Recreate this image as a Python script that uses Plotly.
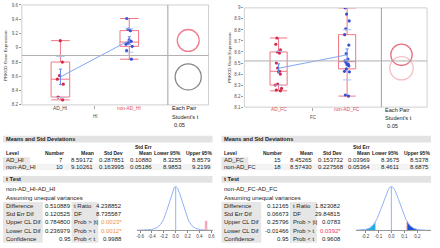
import math
import numpy as np
import plotly.graph_objects as go

W, H = 440, 248
FONT = "Liberation Sans, Arial, sans-serif"

# ---------------- data ----------------
hi_groups = ["AD_HI", "non-AD_HI"]
hi_axis_name = "HI"
ad_hi = [9.10, 8.80, 8.61, 8.56, 8.49, 8.31, 8.27]
non_ad_hi = [9.41, 9.26, 9.24, 9.11, 9.09, 9.07, 9.05, 9.02, 8.96, 8.84]
hi_yticks = [8.2, 8.4, 8.6, 8.8, 9.0, 9.2, 9.4, 9.6]
hi_yticklabels = ["8.2", "8.4", "8.6", "8.8", "9", "9.2", "9.4", "9.6"]
hi_circle_radius = [0.179, 0.150]

fc_groups = ["AD_FC", "non-AD_FC"]
fc_axis_name = "FC"
ad_fc = [8.727, 8.67, 8.62, 8.60, 8.59, 8.50, 8.455, 8.425, 8.42, 8.40,
         8.31, 8.30, 8.27, 8.255, 8.248]
non_ad_fc = [9.00, 8.944, 8.882, 8.81, 8.757, 8.663, 8.585, 8.536, 8.52,
             8.505, 8.49, 8.485, 8.474, 8.447, 8.425, 8.42, 8.21, 8.20]
fc_yticks = [8.1, 8.2, 8.3, 8.4, 8.5, 8.6, 8.7, 8.8, 8.9, 9.0]
fc_yticklabels = ["8.1", "8.2", "8.3", "8.4", "8.5", "8.6", "8.7", "8.8", "8.9", "9"]
fc_circle_radius = [0.104, 0.095]

# Means and Std Deviations
hi_number = [7, 10]
hi_mean = [8.59172, 9.10261]
hi_std = [0.287851, 0.163995]
hi_stderr = [0.10880, 0.05186]
hi_lower95 = [8.3255, 8.9853]
hi_upper95 = [8.8579, 9.2199]

fc_number = [15, 18]
fc_mean = [8.45265, 8.57430]
fc_std = [0.153732, 0.227568]
fc_stderr = [0.03969, 0.05364]
fc_lower95 = [8.3675, 8.4611]
fc_upper95 = [8.5378, 8.6875]

# t Test
ttest_left_labels = ["Difference", "Std Err Dif", "Upper CL Dif", "Lower CL Dif", "Confidence"]
ttest_right_labels = ["t Ratio", "DF", "Prob &gt; |t|", "Prob &gt; t", "Prob &lt; t"]
hi_ttest_values = [0.510889, 0.120525, 0.784800, 0.236979, 0.95]
hi_ttest_stats = [4.238852, 8.735587, 0.0023, 0.0012, 0.9988]
fc_ttest_values = [0.12165, 0.06673, 0.25796, -0.01466, 0.95]
fc_ttest_stats = [1.823082, 29.84815, 0.0783, 0.0392, 0.9608]

hi_density_ticks = [-0.6, -0.4, -0.2, 0.0, 0.2, 0.4, 0.6]
hi_density_ticklabels = ["-0.6", "-0.4", "-0.2", "0.0", "0.2", "0.4", "0.6"]
fc_density_ticks = [-0.2, -0.1, 0.0, 0.1, 0.2]
fc_density_ticklabels = ["-0.2", "-0.1", "0.0", "0.1", "0.2"]

# ---------------- helpers ----------------
fig = go.Figure()
annotations, shapes = [], []
axes = {}


def X(px):
    return px / W


def Y(py):
    return 1 - py / H


def txt(x, y, s, anchor="left", size=6, bold=False, color="#222", xref="paper", angle=0):
    annotations.append(dict(
        x=X(x) if xref == "paper" else x, y=Y(y), xref=xref, yref="paper",
        text=f"<b>{s}</b>" if bold else s, showarrow=False, xanchor=anchor,
        yanchor="middle", textangle=angle, borderpad=0,
        font=dict(family=FONT, size=size, color=color)))


def rect(x0, y0, x1, y1, fill=None, line=None, layer="below"):
    shapes.append(dict(type="rect", xref="paper", yref="paper",
                       x0=X(x0), x1=X(x1), y0=Y(y1), y1=Y(y0),
                       fillcolor=fill or "rgba(0,0,0,0)",
                       line=dict(color=line or "rgba(0,0,0,0)", width=1 if line else 0),
                       layer=layer))


def t_pdf(x, df, scale):
    t = x / scale
    c = math.gamma((df + 1) / 2) / (math.sqrt(df * math.pi) * math.gamma(df / 2))
    return c * (1 + t * t / df) ** (-(df + 1) / 2) / scale


RED_PT = "#d42a4a"
BLUE_PT = "#3552d4"
BOX_LINE = "#f07584"


def panel(cfg, groups, samples, yticks, yticklabels, circle_r, numbers, means, stds,
          stderrs, lowers, uppers, tvals, tstats, dticks, dticklabels, axis_name):
    dx = cfg["dx"]
    xa, ya, ca, dxa, dya = cfg["axes"]
    fx0, fsep, fx1, fy0, fy1 = cfg["frame"]
    yr = cfg["yr"]

    axes[cfg["xkey"]] = dict(domain=[X(fx0), X(fsep)], range=cfg["xr"], anchor=ya,
                             tickvals=[0.5], ticktext=[""], ticks="outside", ticklen=3,
                             tickcolor="#aaa", showgrid=False, zeroline=False,
                             showline=False, fixedrange=True)
    axes[cfg["ykey"]] = dict(domain=[Y(fy1), Y(fy0)], range=yr, anchor=xa,
                             tickvals=yticks, ticktext=yticklabels, ticks="outside",
                             ticklen=2, tickcolor="#999",
                             tickfont=dict(family=FONT, size=4.5, color="#555"),
                             showgrid=False, zeroline=False, showline=False)
    axes[cfg["ckey"]] = dict(domain=[X(fsep), X(fx1)], range=[0, 1], anchor=ya,
                             visible=False)
    axes[cfg["dxkey"]] = dict(domain=[X(137 + dx), X(213 + dx)], range=cfg["drange"],
                              anchor=dya, tickvals=dticks, ticktext=dticklabels,
                              ticks="outside", ticklen=1.5, tickcolor="#888",
                              showline=True, linecolor="#9a9a9a", linewidth=1,
                              showgrid=False, zeroline=False,
                              tickfont=dict(family=FONT, size=4.5, color="#444"))

    rect(fx0, fy0, fx1, fy1, line="#cfcfcf")
    shapes.append(dict(type="line", xref="paper", yref="paper", x0=X(fsep), x1=X(fsep),
                       y0=Y(fy1), y1=Y(fy0), line=dict(color="#a0a0a0", width=1)))
    grand = sum(n * m for n, m in zip(numbers, means)) / sum(numbers)
    shapes.append(dict(type="line", xref="paper", yref=ya, x0=X(fx0), x1=X(fx1),
                       y0=grand, y1=grand, line=dict(color="#b0b0b0", width=1)))

    for i, (vals, pc) in enumerate(zip(samples, [RED_PT, BLUE_PT])):
        fig.add_trace(go.Box(y=vals, x0=i, width=cfg["boxw"], boxpoints="all",
                             jitter=0.45, pointpos=0, quartilemethod="exclusive",
                             whiskerwidth=1, fillcolor="white",
                             line=dict(color=BOX_LINE, width=1),
                             marker=dict(color=pc, size=3.2),
                             xaxis=xa, yaxis=ya, showlegend=False, hoverinfo="y"))
    xs = list(range(len(groups)))
    fig.add_trace(go.Scatter(x=xs, y=means, mode="lines",
                             line=dict(color="#7fa8f3", width=1), xaxis=xa, yaxis=ya))
    fig.add_trace(go.Scatter(x=xs, y=means, mode="markers",
                             marker=dict(size=2, color="rgba(0,0,0,0)"),
                             error_y=dict(type="data", array=stderrs, color="#5d86ea",
                                          thickness=1, width=1.5),
                             xaxis=xa, yaxis=ya))
    sdx, sdy = [], []
    for i, (m, s) in enumerate(zip(means, stds)):
        sdx += [i, i]
        sdy += [m - s, m + s]
    fig.add_trace(go.Scatter(x=sdx, y=sdy, mode="markers",
                             marker=dict(symbol="line-ew", size=6,
                                         line=dict(color="#a9c3f3", width=1)),
                             xaxis=xa, yaxis=ya))

    px_per_unit = (fy1 - fy0) / (yr[1] - yr[0])
    fig.add_trace(go.Scatter(x=[cfg["circle_x"]] * len(means), y=means, mode="markers",
                             marker=dict(symbol="circle-open",
                                         size=[2 * r * px_per_unit for r in circle_r],
                                         color=cfg["circle_colors"],
                                         line=dict(width=1.3, color=cfg["circle_colors"])),
                             xaxis=ca, yaxis=ya, cliponaxis=False))

    for i, g in enumerate(groups):
        txt(i, cfg["label_y"], g, anchor="center", size=4.8, color=cfg["label_colors"][i],
            xref=xa)
    txt(cfg["name_xy"][0], cfg["name_xy"][1], axis_name, anchor="center", size=4.5,
        color="#444")
    txt(cfg["ytitle_x"], (fy0 + fy1) / 2, "PRKCD Gene Expression", anchor="center",
        size=4.4, color="#333", angle=-90)
    ex = cfg["each_x"]
    ey = cfg["each_y"]
    txt(ex, ey[0], "Each Pair", size=5.6, color="#222")
    txt(ex, ey[1], "Student's t", size=5.6, color="#222")
    txt(ex + 2, ey[2], "0.05", size=5.6, color="#222")

    # ---- Means and Std Deviations table ----
    rect(2 + dx, 136.5, 213 + dx, 143.5, fill="#e3e3e3")
    txt(4 + dx, 140, "Means and Std Deviations", size=5.6, bold=True)
    txt(4 + dx, 154, "Level", size=5, bold=True)
    txt(64 + dx, 154, "Number", anchor="right", size=5, bold=True)
    txt(95 + dx, 154, "Mean", anchor="right", size=5, bold=True)
    txt(124 + dx, 154, "Std Dev", anchor="right", size=5, bold=True)
    txt(153 + dx, 148, "Std Err", anchor="right", size=5, bold=True)
    txt(153 + dx, 154, "Mean", anchor="right", size=5, bold=True)
    txt(182 + dx, 154, "Lower 95%", anchor="right", size=5, bold=True)
    txt(213 + dx, 154, "Upper 95%", anchor="right", size=5, bold=True)
    row_y = [161.7, 168.3]
    rect(2 + dx, 165, 213 + dx, 171.6, fill="#f3f3f3")
    for i, g in enumerate(groups):
        rect(2 + dx, row_y[i] - 3.3, 29 + dx, row_y[i] + 3.3, fill="#e6e6e6")
        txt(4 + dx, row_y[i], g, size=6)
        txt(63 + dx, row_y[i], f"{numbers[i]}", anchor="right", size=6)
        txt(94 + dx, row_y[i], f"{means[i]:.5f}", anchor="right", size=6)
        txt(126 + dx, row_y[i], f"{stds[i]:.6f}", anchor="right", size=6)
        txt(153 + dx, row_y[i], f"{stderrs[i]:.5f}", anchor="right", size=6)
        txt(183 + dx, row_y[i], f"{lowers[i]:.4f}", anchor="right", size=6)
        txt(212 + dx, row_y[i], f"{uppers[i]:.4f}", anchor="right", size=6)

    # ---- t Test ----
    rect(2 + dx, 177.5, 213 + dx, 184.5, fill="#e3e3e3")
    txt(4 + dx, 181, "t Test", size=5.8, bold=True)
    txt(4 + dx, 190.7, f"{groups[1]}-{groups[0]}", size=6)
    txt(4 + dx, 199.8, "Assuming unequal variances", size=6)
    trow = [208.3, 216.7, 225.0, 233.3, 241.7]
    rect(2 + dx, 204.2, 42 + dx, 245.8, fill="#e6e6e6")
    rect(71 + dx, 204.2, 98 + dx, 245.8, fill="#e6e6e6")
    vdec = cfg["vdec"]
    sdec = cfg["sdec"]
    for i in range(5):
        txt(4 + dx, trow[i], ttest_left_labels[i], size=6)
        txt(71 + dx, trow[i], f"{tvals[i]:.{vdec[i]}f}", anchor="right", size=6)
        txt(72.5 + dx, trow[i], ttest_right_labels[i], size=6)
        sval = f"{tstats[i]:.{sdec[i]}f}"
        color = "#222"
        if i >= 2 and tstats[i] < 0.05:
            sval += "*"
            color = cfg["pcolor"]
        txt(123 + dx, trow[i], sval, anchor="right", size=6, color=color)

    # ---- density plot ----
    df = tstats[1]
    se = tvals[1]
    diff = tvals[0]
    xs_d = np.linspace(cfg["drange"][0], cfg["drange"][1], 400)
    pdf = np.array([t_pdf(v, df, se) for v in xs_d])
    peak = t_pdf(0.0, df, se)
    axes[cfg["dykey"]] = dict(domain=[Y(233), Y(187.5)], range=[0, peak * 1.02],
                              anchor=dxa, visible=False)
    lt = xs_d <= -abs(diff)
    rt = xs_d >= abs(diff)
    if lt.any():
        fig.add_trace(go.Scatter(x=xs_d[lt], y=pdf[lt], mode="lines", fill="tozeroy",
                                 fillcolor="#24aee0", line=dict(width=0),
                                 xaxis=dxa, yaxis=dya))
    if rt.any():
        fig.add_trace(go.Scatter(x=xs_d[rt], y=pdf[rt], mode="lines", fill="tozeroy",
                                 fillcolor="#1f4fd2", line=dict(width=0),
                                 xaxis=dxa, yaxis=dya))
    fig.add_trace(go.Scatter(x=xs_d, y=pdf, mode="lines",
                             line=dict(color="#8fb3f7", width=1), xaxis=dxa, yaxis=dya))
    fig.add_trace(go.Scatter(x=[0, 0], y=[0, peak], mode="lines",
                             line=dict(color="#8fb3f7", width=1), xaxis=dxa, yaxis=dya))
    h = max(t_pdf(diff, df, se), cfg["diff_minfrac"] * peak)
    fig.add_trace(go.Scatter(x=[diff, diff], y=[0, h], mode="lines",
                             line=dict(color=cfg["diff_color"], width=cfg["diff_width"]),
                             xaxis=dxa, yaxis=dya))


left_cfg = dict(
    dx=0, axes=("x", "y", "x2", "x5", "y3"),
    xkey="xaxis", ykey="yaxis", ckey="xaxis2", dxkey="xaxis5", dykey="yaxis3",
    frame=(21, 168, 209, 3, 105), xr=[-0.56, 1.56], yr=[8.2, 9.6], boxw=0.27,
    label_colors=["#444444", "#e04a60"], label_y=108.5,
    circle_colors=["#555555", "#e8455c"], circle_x=0.5,
    ytitle_x=5, name_xy=(95, 117), each_x=171, each_y=[108.5, 117, 125.5],
    vdec=[6, 6, 6, 6, 2], sdec=[6, 6, 4, 4, 4], pcolor="#f39237",
    drange=[-0.65, 0.62], diff_color="#f6a9b7", diff_width=2.5, diff_minfrac=0.22)

right_cfg = dict(
    dx=220, axes=("x3", "y2", "x4", "x6", "y4"),
    xkey="xaxis3", ykey="yaxis2", ckey="xaxis4", dxkey="xaxis6", dykey="yaxis4",
    frame=(245, 383, 429, 6, 107.3), xr=[-0.5, 1.5], yr=[8.1, 9.0], boxw=0.25,
    label_colors=["#e04a60", "#e04a60"], label_y=110,
    circle_colors=["#f2a3ad", "#e0344c"], circle_x=0.44,
    ytitle_x=230, name_xy=(315, 118), each_x=386, each_y=[110, 118.5, 127],
    vdec=[5, 5, 5, 5, 2], sdec=[6, 5, 4, 4, 4], pcolor="#ef3b5a",
    drange=[-0.275, 0.305], diff_color="#f0506a", diff_width=1, diff_minfrac=0.0)

panel(left_cfg, hi_groups, [ad_hi, non_ad_hi], hi_yticks, hi_yticklabels,
      hi_circle_radius, hi_number, hi_mean, hi_std, hi_stderr, hi_lower95, hi_upper95,
      hi_ttest_values, hi_ttest_stats, hi_density_ticks, hi_density_ticklabels,
      hi_axis_name)
panel(right_cfg, fc_groups, [ad_fc, non_ad_fc], fc_yticks, fc_yticklabels,
      fc_circle_radius, fc_number, fc_mean, fc_std, fc_stderr, fc_lower95, fc_upper95,
      fc_ttest_values, fc_ttest_stats, fc_density_ticks, fc_density_ticklabels,
      fc_axis_name)

fig.update_layout(width=W, height=H, margin=dict(l=0, r=0, t=0, b=0),
                  paper_bgcolor="white", plot_bgcolor="white", showlegend=False,
                  boxmode="overlay", annotations=annotations, shapes=shapes,
                  font=dict(family=FONT), **axes)
fig.write_html("out.html", config={"displayModeBar": False},
               post_script="document.body.style.margin='0';document.body.style.padding='0';")
